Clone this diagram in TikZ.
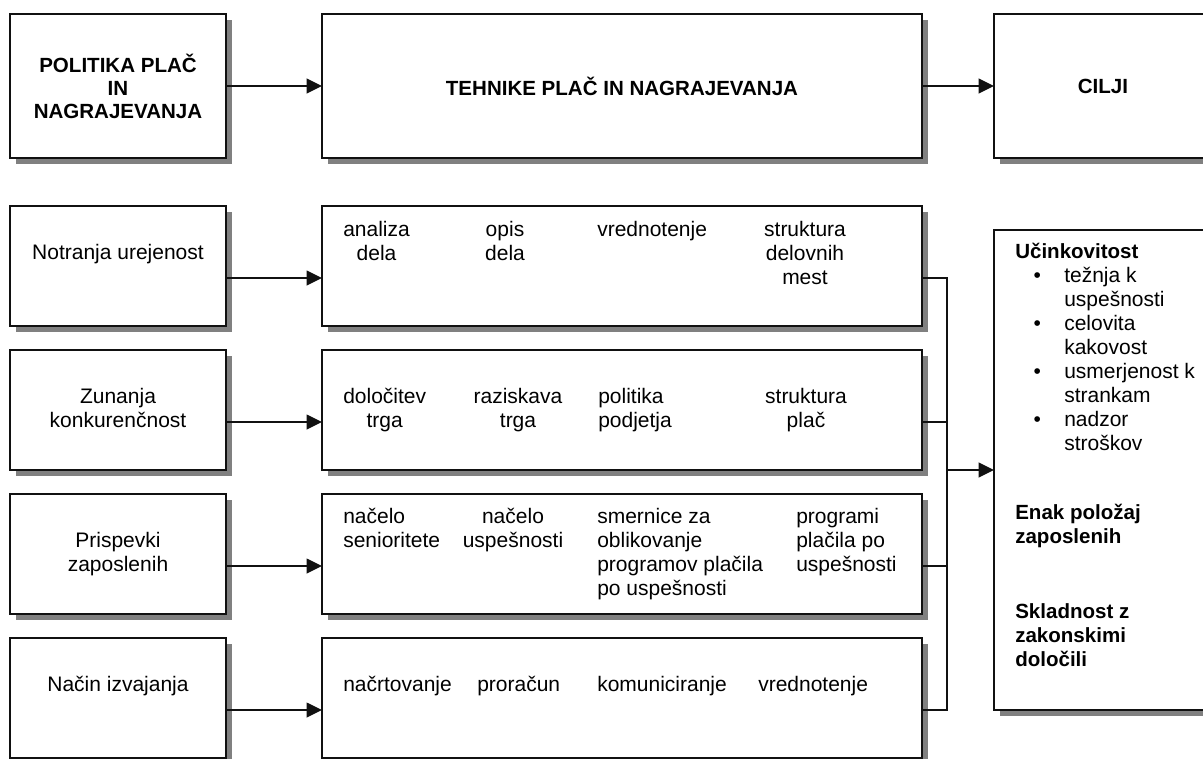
\documentclass[tikz,border=0pt]{standalone}
\usepackage{fontspec}
\setmainfont{Liberation Sans}
\usetikzlibrary{arrows.meta,positioning,shadows}
\definecolor{ink}{HTML}{111111}
\definecolor{shade}{HTML}{808080}
\newcommand{\bulitem}{\hspace*{13.7pt}\makebox[23.05pt][l]{\textbullet}}
\newcommand{\bulcont}{\hspace*{36.75pt}}
\newcommand{\goalhd}[1]{{\fontsize{15.4pt}{18pt}\selectfont\bfseries #1}}
\tikzset{
  box/.style     = {rectangle, draw=ink, fill=white, line width=1.3pt, inner sep=0pt, outer sep=0pt,
                    drop shadow={shadow xshift=4.5pt, shadow yshift=-4.5pt, fill=shade, opacity=1}},
  headbox/.style = {box, minimum height=108pt, align=center,
                    font=\fontsize{15.4pt}{17.25pt}\selectfont\bfseries},
  srcbox/.style  = {box, minimum width=162pt, minimum height=90pt},
  techbox/.style = {box, minimum width=450pt, minimum height=90pt},
  txt/.style     = {inner sep=0pt, font=\fontsize{15.75pt}{18pt}\selectfont},
  ln/.style      = {line width=1.2pt, draw=ink},
  arr/.style     = {ln, -{Triangle[length=11.5pt, width=11pt]}},
}
\begin{document}
\begin{tikzpicture}
\useasboundingbox (0,0) rectangle (902.25pt,-568.5pt);
% top row
\node[headbox, minimum width=162pt, anchor=north west] (pol) at (7.5pt,-10.5pt) {POLITIKA PLAČ\\IN\\NAGRAJEVANJA};
\node[headbox, minimum width=450pt, right=72pt of pol] (teh) {TEHNIKE PLAČ IN NAGRAJEVANJA};
\node[headbox, minimum width=163.5pt, right=54pt of teh] (cil) {CILJI};
% sources
\node[srcbox, below=36pt of pol] (src1) {};
\node[srcbox, below=18pt of src1] (src2) {};
\node[srcbox, below=18pt of src2] (src3) {};
\node[srcbox, below=18pt of src3] (src4) {};
\node[txt, anchor=north] (src1t) at ([yshift=-28.8pt]src1.north) {Notranja urejenost};
\node[txt, anchor=north, align=center] (src2t) at ([yshift=-28.8pt]src2.north) {Zunanja\\konkurenčnost};
\node[txt, anchor=north, align=center] (src3t) at ([yshift=-28.8pt]src3.north) {Prispevki\\zaposlenih};
\node[txt, anchor=north] (src4t) at ([yshift=-28.8pt]src4.north) {Način izvajanja};
% techniques
\node[techbox, right=72pt of src1] (tech1) {};
\node[techbox, right=72pt of src2] (tech2) {};
\node[techbox, right=72pt of src3] (tech3) {};
\node[techbox, right=72pt of src4] (tech4) {};
\node[txt, anchor=north west, align=center] (tech1a) at ([xshift=15.75pt,yshift=-11.55pt]tech1.north west) {analiza\\dela};
\node[txt, anchor=north, align=center] (tech1b) at ([xshift=137.25pt,yshift=-11.55pt]tech1.north west) {opis\\dela};
\node[txt, anchor=north west] (tech1c) at ([xshift=206.25pt,yshift=-11.55pt]tech1.north west) {vrednotenje};
\node[txt, anchor=north, align=center] (tech1d) at ([xshift=362.25pt,yshift=-11.55pt]tech1.north west) {struktura\\delovnih\\mest};
\node[txt, anchor=north west, align=center] (tech2a) at ([xshift=15.75pt,yshift=-28.8pt]tech2.north west) {določitev\\trga};
\node[txt, anchor=north, align=center] (tech2b) at ([xshift=147pt,yshift=-28.8pt]tech2.north west) {raziskava\\trga};
\node[txt, anchor=north west, align=left] (tech2c) at ([xshift=207pt,yshift=-28.8pt]tech2.north west) {politika\\podjetja};
\node[txt, anchor=north, align=center] (tech2d) at ([xshift=363pt,yshift=-28.8pt]tech2.north west) {struktura\\plač};
\node[txt, anchor=north west, align=left] (tech3a) at ([xshift=15.75pt,yshift=-10.8pt]tech3.north west) {načelo\\senioritete};
\node[txt, anchor=north, align=center] (tech3b) at ([xshift=143.25pt,yshift=-10.8pt]tech3.north west) {načelo\\uspešnosti};
\node[txt, anchor=north west, align=left] (tech3c) at ([xshift=206.25pt,yshift=-10.8pt]tech3.north west) {smernice za\\oblikovanje\\programov plačila\\po uspešnosti};
\node[txt, anchor=north west, align=left] (tech3d) at ([xshift=355.5pt,yshift=-10.8pt]tech3.north west) {programi\\plačila po\\uspešnosti};
\node[txt, anchor=north west] (tech4a) at ([xshift=15.75pt,yshift=-28.8pt]tech4.north west) {načrtovanje};
\node[txt, anchor=north west] (tech4b) at ([xshift=116.25pt,yshift=-28.8pt]tech4.north west) {proračun};
\node[txt, anchor=north west] (tech4c) at ([xshift=206.25pt,yshift=-28.8pt]tech4.north west) {komuniciranje};
\node[txt, anchor=north west] (tech4d) at ([xshift=327pt,yshift=-28.8pt]tech4.north west) {vrednotenje};
% goals
\node[box, minimum width=163.5pt, minimum height=360pt, anchor=north west] (goal) at ([xshift=54pt,yshift=-18pt]tech1.north east) {};
\node[txt, anchor=north west, align=left] (goaltxt) at ([xshift=15.75pt,yshift=-9.75pt]goal.north west) {\goalhd{Učinkovitost}\\
  \bulitem težnja k\\ \bulcont uspešnosti\\
  \bulitem celovita\\ \bulcont kakovost\\
  \bulitem usmerjenost k\\ \bulcont strankam\\
  \bulitem nadzor\\ \bulcont stroškov\\[34pt]
  \goalhd{Enak položaj}\\ \goalhd{zaposlenih}\\[38pt]
  \goalhd{Skladnost z}\\ \goalhd{zakonskimi}\\ \goalhd{določili}};
% edges
\draw[arr] (pol) -- (teh);
\draw[arr] (teh) -- (cil);
\draw[arr] ([yshift=-9pt]src1.east) -- ([yshift=-9pt]tech1.west);
\draw[arr] ([yshift=-9pt]src2.east) -- ([yshift=-9pt]tech2.west);
\draw[arr] ([yshift=-9pt]src3.east) -- ([yshift=-9pt]tech3.west);
\draw[arr] ([yshift=-9pt]src4.east) -- ([yshift=-9pt]tech4.west);
\draw[ln] ([yshift=-9pt]tech1.east) -- ++(18.75pt,0) coordinate (bus1) |- ([yshift=-9pt]tech4.east);
\draw[ln] ([yshift=-9pt]tech2.east) -- ++(18.75pt,0);
\draw[ln] ([yshift=-9pt]tech3.east) -- ++(18.75pt,0);
\draw[arr] (bus1 |- goal.west) -- (goal.west);
\end{tikzpicture}
\end{document}
